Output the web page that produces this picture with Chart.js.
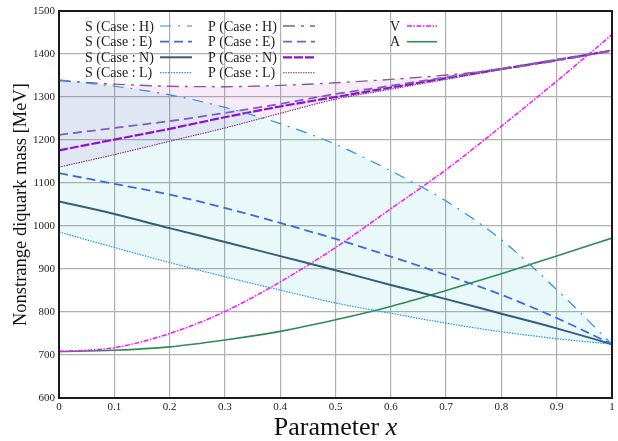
<!DOCTYPE html>
<html><head><meta charset="utf-8">
<script src="https://cdn.jsdelivr.net/npm/chart.js@4"></script>
<style>html,body{margin:0;padding:0;background:#fff}canvas{display:block}</style>
</head><body>
<canvas id="c" width="618" height="441"></canvas>
<script>
// ---- data ----
const xValues = [0, 0.1, 0.2, 0.3, 0.4, 0.5, 0.6, 0.7, 0.8, 0.9, 1.0];
const sH = [1340, 1325, 1305, 1276, 1238, 1190, 1128, 1058, 968, 852, 725];
const sE = [1123, 1098, 1073, 1042, 1007, 970, 929, 886, 840, 786, 725];
const sN = [1057, 1028, 995, 963, 930, 897, 863, 830, 796, 762, 725];
const sL = [986, 950, 915, 882, 851, 821, 797, 774, 754, 738, 725];
const pH = [1338, 1330, 1325, 1324, 1327, 1333, 1341, 1351, 1365, 1384, 1408];
const pE = [1212, 1228, 1244, 1263, 1284, 1307, 1326, 1346, 1366, 1387, 1408];
const pN = [1176, 1201, 1226, 1253, 1278, 1300, 1322, 1344, 1365, 1386, 1408];
const pL = [1137, 1166, 1197, 1228, 1262, 1295, 1318, 1341, 1364, 1386, 1408];
const vV = [708, 717, 750, 801, 870, 950, 1040, 1131, 1232, 1337, 1445];
const aA = [708, 711, 719, 735, 755, 782, 813, 850, 889, 930, 972];
const labels = ['S (Case : H)', 'S (Case : E)', 'S (Case : N)', 'S (Case : L)',
                'P (Case : H)', 'P (Case : E)', 'P (Case : N)', 'P (Case : L)', 'V', 'A'];
const yMin = 600, yMax = 1500, yStep = 100;
const xMin = 0, xMax = 1, xStep = 0.1;

const pts = arr => arr.map((y, i) => ({x: xValues[i], y}));
const SERIF = '"Liberation Serif", "DejaVu Serif", serif';

function ds(label, data, color, width, dash, extra) {
  return Object.assign({
    label, data: pts(data), borderColor: color, borderWidth: width, borderDash: dash,
    pointRadius: 0, fill: false, cubicInterpolationMode: 'monotone', borderCapStyle: 'butt'
  }, extra || {});
}

const datasets = [
  ds(labels[0], sH, '#2a8cf5', 1.2, [11, 7, 2, 7], {fill: 3, backgroundColor: 'rgba(0,190,200,0.085)'}),
  ds(labels[1], sE, '#3f68e0', 1.8, [9, 5]),
  ds(labels[2], sN, '#355d7e', 2, []),
  ds(labels[3], sL, '#1e90ff', 1.2, [1.5, 1.2]),
  ds(labels[4], pH, '#8c5a90', 1.4, [12, 6, 3, 6], {fill: 7, backgroundColor: 'rgba(175,70,175,0.11)'}),
  ds(labels[5], pE, '#7c5cc8', 1.8, [9, 5]),
  ds(labels[6], pN, '#9010d0', 2.2, [9, 2]),
  ds(labels[7], pL, '#862a86', 1.1, [1.5, 1]),
  ds(labels[8], vV, '#ff10ff', 1.5, [5, 1.5, 1.5, 1.5]),
  ds(labels[9], aA, '#2e8b57', 1.6, [])
];

const legendPos = [
  {x: 85, lx: 160, lw: 32, y: 26}, {x: 85, lx: 160, lw: 32, y: 41.7},
  {x: 85, lx: 160, lw: 32, y: 57.3}, {x: 85, lx: 160, lw: 32, y: 72.7},
  {x: 208, lx: 283, lw: 32, y: 26}, {x: 208, lx: 283, lw: 32, y: 41.7},
  {x: 208, lx: 283, lw: 32, y: 57.3}, {x: 208, lx: 283, lw: 32, y: 72.7},
  {x: 390, lx: 407, lw: 30, y: 26}, {x: 390, lx: 407, lw: 30, y: 41.7}
];

const decor = {
  id: 'decor',
  afterDraw(chart) {
    const ctx = chart.ctx, a = chart.chartArea;
    ctx.save();
    // frame
    ctx.strokeStyle = '#1a1a1a'; ctx.lineWidth = 2; ctx.setLineDash([]);
    ctx.strokeRect(a.left, a.top, a.right - a.left, a.bottom - a.top);
    // legend
    ctx.font = '14px ' + SERIF; ctx.fillStyle = '#222'; ctx.textBaseline = 'middle'; ctx.textAlign = 'left';
    chart.data.datasets.forEach((d, i) => {
      const p = legendPos[i];
      ctx.fillText(d.label, p.x, p.y + 1);
      ctx.strokeStyle = d.borderColor; ctx.lineWidth = d.borderWidth;
      ctx.setLineDash(d.borderDash || []);
      ctx.beginPath(); ctx.moveTo(p.lx, p.y); ctx.lineTo(p.lx + p.lw, p.y); ctx.stroke();
    });
    ctx.setLineDash([]);
    // axis titles
    ctx.fillStyle = '#111';
    ctx.textBaseline = 'alphabetic';
    const xt = 'Parameter ';
    ctx.font = '26px ' + SERIF;
    const w1 = ctx.measureText(xt).width;
    ctx.font = 'italic 26px ' + SERIF;
    const w2 = ctx.measureText('x').width;
    const cx = (a.left + a.right) / 2, sx = cx - (w1 + w2) / 2;
    ctx.font = '26px ' + SERIF; ctx.textAlign = 'left';
    ctx.fillText(xt, sx, 435);
    ctx.font = 'italic 26px ' + SERIF;
    ctx.fillText('x', sx + w1, 435);
    ctx.translate(21, (a.top + a.bottom) / 2);
    ctx.rotate(-Math.PI / 2);
    ctx.font = '18.5px ' + SERIF; ctx.textAlign = 'center'; ctx.textBaseline = 'middle';
    ctx.fillText('Nonstrange diquark mass [MeV]', 0, 0);
    ctx.restore();
  }
};

new Chart(document.getElementById('c'), {
  type: 'line',
  data: {datasets},
  options: {
    responsive: false, animation: false, devicePixelRatio: 1,
    layout: {padding: {top: 11, right: 6, left: 0, bottom: 0}},
    plugins: {legend: {display: false}, tooltip: {enabled: false}, filler: {drawTime: 'beforeDatasetsDraw'}},
    scales: {
      x: {
        type: 'linear', min: xMin, max: xMax,
        afterFit: s => { s.height = 43; },
        ticks: {stepSize: xStep, padding: 3, color: '#222', font: {family: SERIF, size: 11},
                callback: v => String(+v.toFixed(1)), maxRotation: 0, autoSkip: false},
        grid: {color: '#b0b0b0', lineWidth: 1.2, drawTicks: false},
        border: {color: '#1a1a1a', width: 2}
      },
      y: {
        type: 'linear', min: yMin, max: yMax,
        afterFit: s => { s.width = 59; },
        ticks: {stepSize: yStep, padding: 4, color: '#222', font: {family: SERIF, size: 11},
                callback: v => String(Math.round(v))},
        grid: {color: '#b0b0b0', lineWidth: 1.2, drawTicks: false},
        border: {color: '#1a1a1a', width: 2}
      }
    }
  },
  plugins: [decor]
});
</script>
</body></html>
